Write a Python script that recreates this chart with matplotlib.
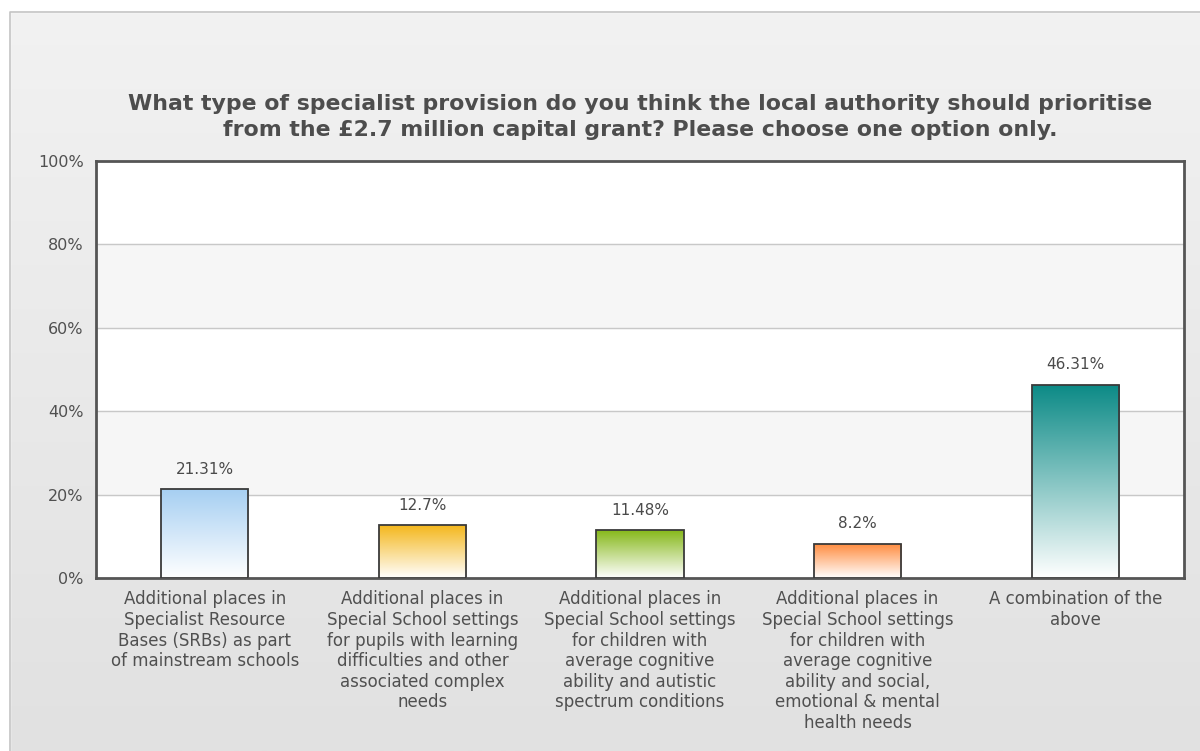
import numpy as np
import matplotlib.pyplot as plt
from matplotlib.colors import LinearSegmentedColormap
from matplotlib.patches import Rectangle

title = ("What type of specialist provision do you think the local authority should prioritise\n"
         "from the £2.7 million capital grant? Please choose one option only.")
categories = [
    "Additional places in\nSpecialist Resource\nBases (SRBs) as part\nof mainstream schools",
    "Additional places in\nSpecial School settings\nfor pupils with learning\ndifficulties and other\nassociated complex\nneeds",
    "Additional places in\nSpecial School settings\nfor children with\naverage cognitive\nability and autistic\nspectrum conditions",
    "Additional places in\nSpecial School settings\nfor children with\naverage cognitive\nability and social,\nemotional & mental\nhealth needs",
    "A combination of the\nabove",
]
values = [21.31, 12.7, 11.48, 8.2, 46.31]
value_labels = ["21.31%", "12.7%", "11.48%", "8.2%", "46.31%"]
top_colors = ["#a6cff2", "#f4b71c", "#86b81a", "#ff8a3c", "#0b8a86"]
y_ticks = [0, 20, 40, 60, 80, 100]

plt.rcParams['font.family'] = ['DejaVu Sans']
fig = plt.figure(figsize=(12, 7.51), dpi=100)

# page background with soft vertical gradient
bg = fig.add_axes([0, 0, 1, 1], zorder=-10)
grad = np.linspace(0, 1, 256).reshape(-1, 1)
bg_cmap = LinearSegmentedColormap.from_list("bg", ["#f2f2f2", "#e1e1e1"])
bg.imshow(grad, aspect="auto", cmap=bg_cmap, extent=[0, 1, 0, 1], origin="upper")
bg.add_patch(Rectangle((0, 0.984), 1, 0.02, color="white", zorder=2))
bg.add_patch(Rectangle((0, 0), 0.008, 1, color="white", zorder=2))
bg.plot([0.0085, 0.0085, 1.0], [0.0, 0.9835, 0.9835], color="#c4c4c4", lw=1.2, zorder=3)
bg.set_xlim(0, 1)
bg.set_ylim(0, 1)
bg.axis("off")

ax = fig.add_axes([96 / 1200, 1 - 578 / 751, 1088 / 1200, 417 / 751])
ax.set_xlim(-0.5, len(values) - 0.5)
ax.set_ylim(0, 100)
ax.set_facecolor("white")

# alternating bands + grid
for i in range(len(y_ticks) - 1):
    if i % 2 == 1:
        ax.axhspan(y_ticks[i], y_ticks[i + 1], color="#f6f6f6", zorder=0)
for y in y_ticks[1:-1]:
    ax.axhline(y, color="#c8c8c8", lw=1, zorder=1)

x = np.arange(len(values))
bars = ax.bar(x, values, width=0.4, facecolor="none", edgecolor="#3a3a3a", lw=1.3, zorder=4)
for bar, c in zip(bars, top_colors):
    cmap = LinearSegmentedColormap.from_list("g", ["#ffffff", c])
    x0, w, h = bar.get_x(), bar.get_width(), bar.get_height()
    im = ax.imshow(np.linspace(0, 1, 256).reshape(-1, 1), cmap=cmap, aspect="auto",
                   extent=[x0, x0 + w, 0, h], origin="lower", zorder=3)
    im.set_clip_path(bar)

for xi, v, lab in zip(x, values, value_labels):
    ax.text(xi, v + 3.0, lab, ha="center", va="bottom", fontsize=11, color="#4a4a4a")

ax.set_xticks(x)
ax.set_xticklabels(categories, fontsize=12, color="#505050", linespacing=1.18)
ax.set_yticks(y_ticks)
ax.set_yticklabels([f"{t}%" for t in y_ticks], fontsize=11.5, color="#505050")
ax.tick_params(axis="x", length=0, pad=9)
ax.tick_params(axis="y", length=0, pad=9)
for s in ax.spines.values():
    s.set_color("#555555")
    s.set_linewidth(2)

fig.text(0.5 + 40 / 1200, 1 - 117 / 751, title, ha="center", va="center", fontsize=15.8,
         fontweight="bold", color="#4d4d4d", linespacing=1.35)

fig.savefig("out.png", dpi=100)
